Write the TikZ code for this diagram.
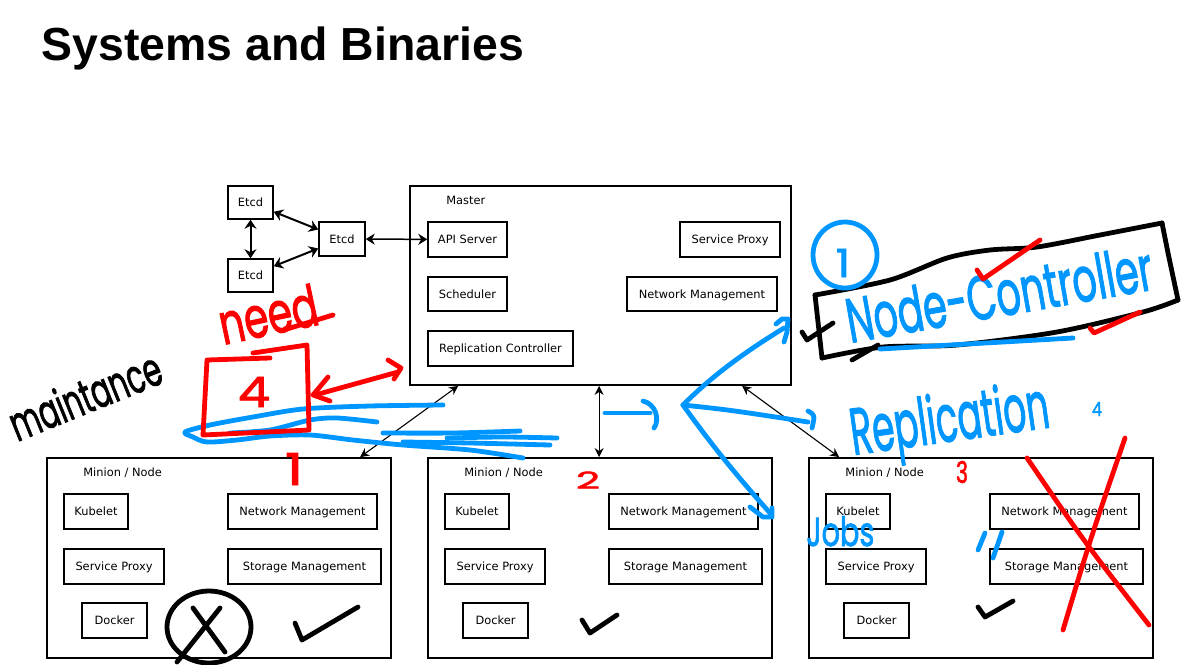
\documentclass[tikz,border=0pt]{standalone}
\usepackage{fontspec}
\usepackage{graphicx}
\setmainfont{DejaVu Sans}
\newfontfamily\titlefont{Liberation Sans}
\newfontfamily\hand{Poppins}[FakeBold=2]
\usetikzlibrary{arrows.meta,fit,calc}
\definecolor{inkblue}{RGB}{0,150,255}
\definecolor{inkred}{RGB}{255,0,0}
\tikzset{
  box/.style={draw, line width=0.75pt, inner sep=0pt, text height=4.2pt, text depth=0pt, font=\fontsize{5.7}{6}\selectfont},
  frame/.style={draw, line width=0.9pt, inner sep=0pt},
  lbl/.style={inner sep=0pt, anchor=west, font=\fontsize{5.7}{6}\selectfont},
  etcdarrow/.style={{Stealth[length=4.5pt,width=6pt]}-{Stealth[length=4.5pt,width=6pt]}, line width=1pt},
  midarrow/.style={{Stealth[length=4.5pt,width=5.5pt]}-{Stealth[length=4.5pt,width=5.5pt]}, line width=0.75pt},
  thinarrow/.style={{Stealth[length=4.5pt,width=4.5pt]}-{Stealth[length=4.5pt,width=4.5pt]}, line width=0.55pt},
  ink/.style={line width=2.4pt, line cap=round, line join=round},
  hw/.style={inner sep=0pt, font=\hand},
}
\begin{document}
\begin{tikzpicture}[x=0.5pt,y=-0.5pt]
\useasboundingbox (0,0) rectangle (1192,664);
% title
\node[anchor=base west, inner sep=0pt, font=\titlefont\bfseries\fontsize{23.2}{26}\selectfont] (title) at (41.5,60) {Systems and Binaries};

% etcd
\node[box, minimum width=22.5pt, minimum height=16.5pt] (e1) at (250.5,202.5) {Etcd};
\node[box, minimum width=22.5pt, minimum height=16.5pt] (e2) at (250.5,275.5) {Etcd};
\node[box, minimum width=23pt, minimum height=17pt] (e3) at (342,239) {Etcd};

% master
\node[frame, fit={(410,186) (791,385)}] (master) {};
\node[lbl] (masterlbl) at (446,200) {Master};
\node[box, minimum width=39.5pt, minimum height=17.5pt] (api) at (467.5,239.5) {API Server};
\node[box, minimum width=39.5pt, minimum height=17pt] (sched) at (467.5,294) {Scheduler};
\node[box, minimum width=72.5pt, minimum height=17.5pt] (rc) at (500.5,348.5) {Replication Controller};
\node[box, minimum width=50pt, minimum height=17.5pt] (msp) at (730,239.5) {Service Proxy};
\node[box, minimum width=75pt, minimum height=17pt] (mnm) at (702,294) {Network Management};

% minions
\foreach \i/\dx in {1/0,2/381,3/762}{
  \node[frame, fit={(47+\dx,458) (391+\dx,658)}] (mn\i) {};
  \node[lbl] (mnl\i) at (83+\dx,473) {Minion / Node};
  \node[box, minimum width=32pt, minimum height=17.5pt] (kub\i) at (96+\dx,511.5) {Kubelet};
  \node[box, minimum width=74.5pt, minimum height=17.5pt] (net\i) at (302.5+\dx,511.5) {Network Management};
  \node[box, minimum width=50pt, minimum height=17.5pt] (sp\i) at (114+\dx,566.5) {Service Proxy};
  \node[box, minimum width=76.5pt, minimum height=17.5pt] (st\i) at (304.5+\dx,566.5) {Storage Management};
  \node[box, minimum width=32.5pt, minimum height=17.5pt] (dk\i) at (114.5+\dx,620.5) {Docker};
}

% connectors
\draw[etcdarrow] (e1) -- (e2);
\draw[etcdarrow] (e1) -- (e3);
\draw[etcdarrow] (e2) -- (e3);
\draw[midarrow] (e3) -- (api);
\draw[thinarrow] ([xshift=24.5pt]master.south west) -- ([xshift=157pt]mn1.north west);
\draw[thinarrow] ([xshift=95pt]master.south west) -- ([xshift=86pt]mn2.north west);
\draw[thinarrow] ([xshift=166.5pt]master.south west) -- ([xshift=15.5pt]mn3.north west);

% ---------- handwritten annotations ----------
% blue scribbles under the new node
\draw[ink, inkblue] plot[smooth] coordinates {(443,405) (370,406) (303,409) (253,417) (210,425) (185,432) (193,437) (207,442) (237,440) (270,436) (310,435) (353,440) (403,445) (470,450) (523,458)};
\draw[ink, inkblue] plot[smooth] coordinates {(230,433) (270,430) (310,420) (337,418) (377,422)};
\draw[ink, inkblue] plot[smooth] coordinates {(383,433) (453,433) (520,431)};
\draw[ink, inkblue] plot[smooth] coordinates {(447,438) (503,437) (557,438)};
\draw[ink, inkblue] plot[smooth] coordinates {(403,442) (470,443) (550,445)};

% black: maintance
\node[hw, anchor=base west, rotate=22, text=black] (maint) at (17,442) {\resizebox{80pt}{18pt}{maintance}};

% red: need + new node 4
\node[hw, anchor=base west, rotate=12, text=inkred] (need) at (223,345) {\resizebox{50pt}{21pt}{need}};
\draw[ink, inkred] (287,329) -- (333,315);
\draw[ink, inkred] (253,353) -- (307,345) -- (309,430) -- (203,435) -- (207,360) -- (270,358);
\node[hw, text=inkred] (four) at (254,392) {\resizebox{16pt}{15pt}{4}};
\draw[ink, inkred] (315,395) -- (398,372);
\draw[ink, inkred] (328,377) -- (313,395) -- (330,401);
\draw[ink, inkred] (388,360) -- (401,368) -- (394,379);
\node[hw, text=inkred] (r1) at (294,469) {\resizebox{9pt}{16pt}{1}};
\node[hw, text=inkred] (r2) at (588,480) {\resizebox{12pt}{8.5pt}{2}};
\node[hw, text=inkred] (r3) at (962,472) {\resizebox{6pt}{11pt}{3}};

% Node-Controller box
\draw[ink, black] plot[smooth] coordinates {(815,295) (890,280) (947,258) (990,250) (1037,247) (1100,235) (1162,223)};
\draw[ink, black] (1162,223) -- (1168,253) -- (1178,300);
\draw[ink, black] plot[smooth] coordinates {(1178,300) (1143,312) (1057,332) (957,345) (883,347) (822,358)};
\draw[ink, black] (822,358) -- (815,295);
\draw[ink, black] (852,360) -- (878,345);
\draw[ink, black] (802,332) -- (807,340) -- (833,323);
\draw[ink, inkblue] (845,255) ellipse [x radius=16pt, y radius=16.5pt];
\node[hw, text=inkblue] (one) at (843,263) {\resizebox{7pt}{14pt}{1}};
\node[hw, anchor=base west, rotate=10, text=inkblue] (nc) at (850,343) {\resizebox{155pt}{23pt}{Node-Controller}};
\draw[ink, inkblue] (880,349) -- (1073,338);
\draw[ink, inkred] (977,270) -- (983,279) -- (1040,240);
\draw[ink, inkred] (1090,328) -- (1094,333) -- (1140,312);

% Replication, 4, Jobs
\node[hw, anchor=base west, rotate=8, text=inkblue] (repl) at (853,455) {\resizebox{100pt}{25pt}{Replication}};
\node[hw, text=inkblue] (b4) at (1097,409) {\resizebox{5pt}{7pt}{4}};
\node[hw, anchor=base west, text=inkblue] (jobs) at (806,546) {\resizebox{34pt}{15pt}{Jobs}};
\draw[ink, inkblue] (985,533) -- (978,550);
\draw[ink, inkblue] (1002,532) -- (993,558);

% blue arrows from master
\draw[ink, inkblue] (605,413) -- (650,413);
\draw[ink, inkblue] (643,401) .. controls (656,404) and (660,420) .. (654,428);
\coordinate (hub) at (683,405);
\draw[ink, inkblue] (hub) .. controls (710,378) and (740,355) .. (784,328);
\draw[ink, inkblue] (776,324) -- (782,319) -- (788,319) -- (787,332) -- (784,342);
\draw[ink, inkblue] (hub) .. controls (730,410) .. (808,422);
\draw[ink, inkblue] (808,411) .. controls (815,415) .. (812,428);
\draw[ink, inkblue] (hub) .. controls (715,450) and (745,485) .. (770,513);
\draw[ink, inkblue] (750,507) -- (763,517) -- (772,517) -- (772,508);

% red X over minion 3
\draw[ink, inkred] (1125,438) .. controls (1090,540) .. (1063,630);
\draw[ink, inkred] (1027,458) .. controls (1083,540) .. (1149,625);

% black checks and circled X
\draw[ink, black] (295,623) -- (302,640) -- (358,607);
\draw[ink, black] (582,620) -- (590,633) -- (617,615);
\draw[ink, black] (978,607) -- (985,617) -- (1013,601);
\draw[ink, black] (209,627) ellipse [x radius=21pt, y radius=18pt];
\draw[ink, black] (193,608) -- (225,652);
\draw[ink, black] (220,608) -- (177,662);
\end{tikzpicture}
\end{document}
